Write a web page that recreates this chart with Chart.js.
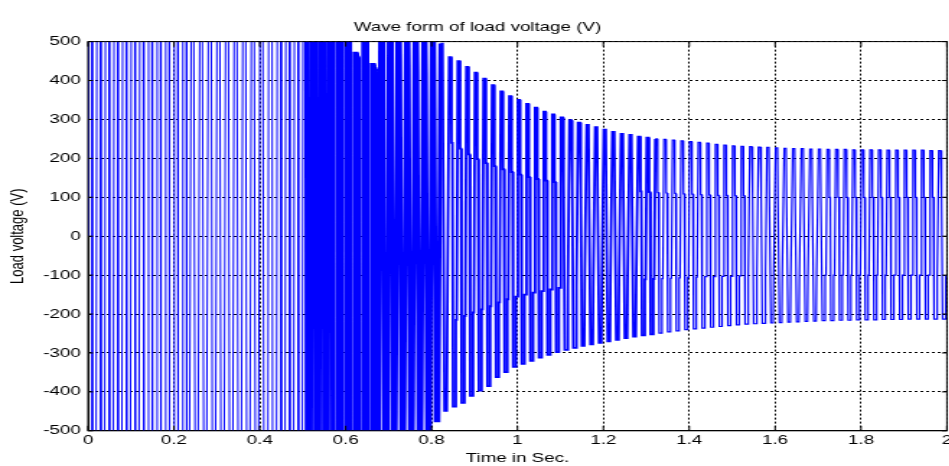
<!DOCTYPE html>
<html>
<head>
<meta charset="utf-8">
<title>Wave form of load voltage</title>
<script src="https://cdn.jsdelivr.net/npm/chart.js@4.4.1/dist/chart.umd.min.js"></script>
<style>
  html, body { margin: 0; padding: 0; background: #fff; overflow: hidden; }
  /* the original figure is stretched sideways, so the chart is drawn narrow and scaled */
  #wrap { width: 662px; height: 466px; transform: scaleX(1.4426); transform-origin: 0 0; }
</style>
</head>
<body>
<div id="wrap"><canvas id="loadVoltageChart"></canvas></div>
<script>
// load voltage, one value per 50 Hz cycle (20 ms)
const period = 0.02;

// positive peak of each cycle (V), cycles 0..99
const positivePeaks = [
  800, 800, 800, 800, 800, 800, 800, 800, 800, 800,
  800, 800, 800, 800, 800, 800, 800, 800, 800, 800,
  800, 800, 800, 800, 800, 900, 900, 900, 900, 900,
  900, 470, 800, 441, 700, 620, 580, 560, 540, 525,
  515, 495, 460, 450, 435, 420, 405, 388, 372, 360,
  350, 340, 330, 320, 313, 305, 298, 292, 286, 280,
  274, 268, 263, 260, 256, 253, 250, 249, 247, 245,
  243, 241, 239, 236, 234, 232, 231, 230, 229, 228,
  227, 226, 225, 225, 224, 224, 223, 223, 223, 222,
  222, 222, 222, 221, 221, 221, 221, 221, 220, 220
];

// level of the step on the way down from the positive peak (V)
const positiveSteps = [
  800, 800, 800, 800, 800, 800, 800, 800, 800, 800,
  800, 800, 800, 800, 800, 800, 800, 800, 800, 800,
  800, 800, 800, 800, 800, 700, 700, 700, 700, 700,
  700, 460, 700, 430, 520, 470, 455, 440, 430, 420,
  330, 260, 240, 225, 210, 198, 188, 180, 172, 165,
  158, 152, 147, 143, 139, 135, 132, 129, 126, 124,
  122, 120, 118, 116, 115, 113, 112, 111, 110, 109,
  108, 107, 106, 105, 105, 104, 104, 103, 103, 102,
  102, 102, 101, 101, 101, 100, 100, 100, 100, 100,
  100, 100, 100, 100, 100, 100, 100, 100, 100, 100
];

// negative peak of each cycle (V), cycles 0..99
const negativePeaks = [
  -800, -800, -800, -800, -800, -800, -800, -800, -800, -800,
  -800, -800, -800, -800, -800, -800, -800, -800, -800, -800,
  -800, -800, -800, -800, -800, -900, -900, -900, -900, -900,
  -900, -900, -900, -700, -650, -600, -580, -560, -540, -520,
  -474, -449, -438, -428, -410, -397, -385, -362, -349, -336,
  -328, -320, -312, -305, -298, -292, -287, -282, -278, -274,
  -270, -266, -262, -258, -255, -252, -249, -246, -243, -240,
  -238, -236, -234, -232, -230, -228, -226, -225, -224, -223,
  -222, -221, -220, -219, -218, -217, -217, -216, -216, -215,
  -215, -215, -214, -214, -214, -213, -213, -213, -213, -213
];

// level of the step on the way up from the negative peak (V)
const negativeSteps = [
  -800, -800, -800, -800, -800, -800, -800, -800, -800, -800,
  -800, -800, -800, -800, -800, -800, -800, -800, -800, -800,
  -800, -800, -800, -800, -800, -700, -700, -700, -700, -700,
  -700, -700, -700, -480, -460, -450, -440, -430, -420, -410,
  -300, -230, -215, -205, -196, -188, -180, -170, -162, -155,
  -150, -145, -141, -137, -133, -130, -127, -125, -122, -120,
  -118, -116, -114, -113, -111, -110, -109, -108, -107, -106,
  -105, -104, -104, -103, -103, -102, -102, -101, -101, -100,
  -100, -100, -100, -100, -100, -100, -100, -100, -100, -100,
  -100, -100, -100, -100, -100, -100, -100, -100, -100, -100
];

const xTicks = [0, 0.2, 0.4, 0.6, 0.8, 1, 1.2, 1.4, 1.6, 1.8, 2];
const yTicks = [-500, -400, -300, -200, -100, 0, 100, 200, 300, 400, 500];

const fontFamily = '"Liberation Sans", Arial, Helvetica, sans-serif';
const waveColor = '#0000ff';

// stepped cycle: peak, step, trough, step
function cyclePoints(from, to) {
  const pts = [];
  if (from === 0) pts.push({ x: 0, y: 0 });
  for (let k = from; k < to; k++) {
    const t = k * period;
    pts.push({ x: t + 0.0010, y: positivePeaks[k] });
    pts.push({ x: t + 0.0055, y: positivePeaks[k] });
    pts.push({ x: t + 0.0065, y: positiveSteps[k] });
    pts.push({ x: t + 0.0085, y: positiveSteps[k] });
    pts.push({ x: t + 0.0100, y: negativePeaks[k] });
    pts.push({ x: t + 0.0155, y: negativePeaks[k] });
    pts.push({ x: t + 0.0165, y: negativeSteps[k] });
    pts.push({ x: t + 0.0185, y: negativeSteps[k] });
  }
  if (to < positivePeaks.length) {
    pts.push({ x: to * period + 0.0010, y: positivePeaks[to] });
  }
  return pts;
}

function waveDataset(from, to, width) {
  return {
    data: cyclePoints(from, to),
    borderColor: waveColor,
    borderWidth: width,
    pointRadius: 0,
    tension: 0,
    fill: false,
    clip: 0
  };
}

function tickText(value) {
  return String(Number(value.toFixed(1)));
}

// box round the plot with inward ticks, like the original
const framePlugin = {
  id: 'frame',
  afterDraw(chart) {
    const { ctx, chartArea: a, scales: { x, y } } = chart;
    ctx.save();
    ctx.strokeStyle = '#000';
    ctx.lineWidth = 1;
    ctx.strokeRect(a.left, a.top, a.right - a.left, a.bottom - a.top);
    ctx.beginPath();
    xTicks.forEach((v) => {
      const px = x.getPixelForValue(v);
      ctx.moveTo(px, a.bottom); ctx.lineTo(px, a.bottom - 5);
      ctx.moveTo(px, a.top); ctx.lineTo(px, a.top + 5);
    });
    yTicks.forEach((v) => {
      const py = y.getPixelForValue(v);
      ctx.moveTo(a.left, py); ctx.lineTo(a.left + 3.5, py);
      ctx.moveTo(a.right, py); ctx.lineTo(a.right - 3.5, py);
    });
    ctx.stroke();
    ctx.restore();
  }
};

const ctx = document.getElementById('loadVoltageChart').getContext('2d');
new Chart(ctx, {
  type: 'line',
  data: {
    datasets: [
      waveDataset(0, 25, 1),
      waveDataset(25, 41, 3),
      waveDataset(41, 66, 1.8),
      waveDataset(66, 100, 1.2)
    ]
  },
  options: {
    animation: false,
    responsive: true,
    maintainAspectRatio: false,
    layout: { padding: 0 },
    plugins: {
      legend: { display: false },
      tooltip: { enabled: false },
      title: {
        display: true,
        text: 'Wave form of load voltage (V)',
        color: '#000',
        font: { family: fontFamily, size: 13, weight: 'normal' },
        padding: { top: 20, bottom: 6 }
      }
    },
    scales: {
      x: {
        type: 'linear',
        min: 0,
        max: 2,
        afterBuildTicks: (scale) => { scale.ticks = xTicks.map((v) => ({ value: v })); },
        ticks: {
          color: '#000',
          font: { family: fontFamily, size: 13 },
          padding: 2,
          maxRotation: 0,
          autoSkip: false,
          callback: tickText
        },
        grid: { color: '#000', lineWidth: 1, drawTicks: false, tickLength: 0 },
        border: { display: true, color: '#000', dash: [2, 2] },
        title: {
          display: true,
          text: 'Time in Sec.',
          color: '#000',
          font: { family: fontFamily, size: 13 },
          padding: { top: 0, bottom: 0 }
        }
      },
      y: {
        min: -500,
        max: 500,
        afterBuildTicks: (scale) => { scale.ticks = yTicks.map((v) => ({ value: v })); },
        afterFit: (scale) => { scale.width = 61; },
        ticks: {
          color: '#000',
          font: { family: fontFamily, size: 13 },
          padding: 5
        },
        grid: { color: '#000', lineWidth: 1, drawTicks: false, tickLength: 0 },
        border: { display: true, color: '#000', dash: [2, 2] },
        title: {
          display: true,
          text: 'Load voltage (V)',
          color: '#000',
          font: { family: fontFamily, size: 13 },
          padding: { top: 4.6, bottom: 0 }
        }
      }
    }
  },
  plugins: [framePlugin]
});
</script>
</body>
</html>
